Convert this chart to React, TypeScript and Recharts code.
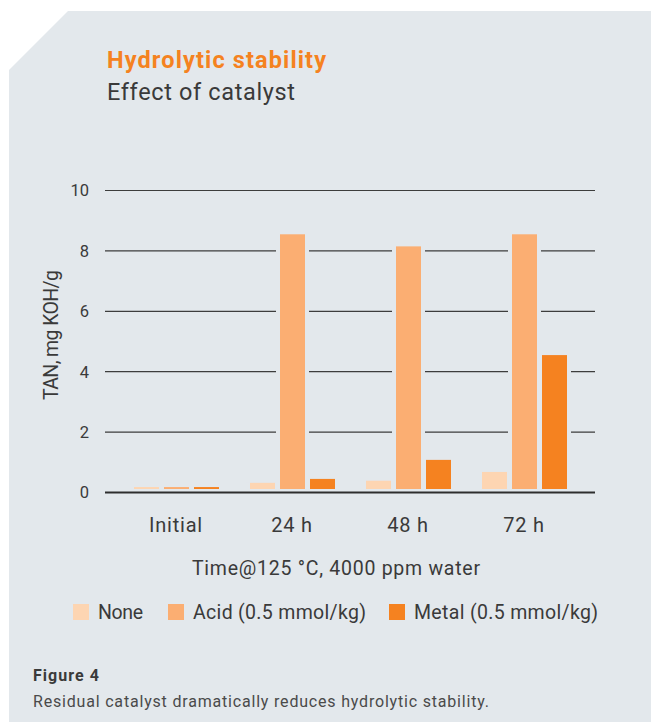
import { BarChart, Bar, XAxis, YAxis, CartesianGrid } from 'recharts';

const categories = ['Initial', '24 h', '48 h', '72 h'];
const noneValues = [0.18, 0.32, 0.39, 0.68];
const acidValues = [0.18, 8.55, 8.15, 8.55];
const metalValues = [0.18, 0.45, 1.08, 4.55];
const yTicks = [0, 2, 4, 6, 8, 10];

const series = [
  { key: 'none', name: 'None', color: '#fdd5b2' },
  { key: 'acid', name: 'Acid (0.5 mmol/kg)', color: '#fbae72' },
  { key: 'metal', name: 'Metal (0.5 mmol/kg)', color: '#f58220' },
];

const data = categories.map((c, i) => ({
  time: c,
  none: noneValues[i],
  acid: acidValues[i],
  metal: metalValues[i],
}));

const PANEL = '#e3e8ec';
const TEXT = '#3a3a3a';
const ORANGE = '#f58220';
const FONT = 'Roboto, "Open Sans", sans-serif';

// bar with a panel-coloured halo so the grid lines break around it
function HaloBar(props: any) {
  const { x, y, width, height, fill } = props;
  if (!height || height <= 0) return null;
  return (
    <g>
      <rect x={x - 4} y={y} width={width + 8} height={height} fill={PANEL} />
      <rect x={x} y={y} width={width} height={Math.max(height - 3.5, 1.5)} fill={fill} />
    </g>
  );
}

// layout of the legend entries (square left edge, text left edge, text width)
const legendLayout = [
  { sx: 73, tx: 98, w: 45 },
  { sx: 168, tx: 193, w: 173 },
  { sx: 389, tx: 414, w: 184 },
];

export default function App() {
  return (
    <div style={{ position: 'absolute', left: 0, top: 0, width: 651, height: 722, background: '#fff', overflow: 'hidden', fontFamily: FONT }}>
      <svg width={651} height={722} style={{ position: 'absolute', left: 0, top: 0 }}>
        <polygon points="68,11 651,11 651,722 9,722 9,70" fill={PANEL} />
        <text x={107} y={68.3} fontSize={23.5} fontWeight={700} fill={ORANGE} textLength={219} lengthAdjust="spacing">
          Hydrolytic stability
        </text>
        <text x={107} y={100} fontSize={23.5} fill={TEXT} textLength={188} lengthAdjust="spacing">
          Effect of catalyst
        </text>
        <text x={58.3} y={335} fontSize={19.5} fill={TEXT} textAnchor="middle" transform="rotate(-90, 58.3, 335)" textLength={130} lengthAdjust="spacing">
          TAN, mg KOH/g
        </text>
        <text x={192} y={575} fontSize={19.5} fill={TEXT} textLength={288} lengthAdjust="spacing">
          Time@125 °C, 4000 ppm water
        </text>
        {series.map((s, i) => (
          <g key={s.key}>
            <rect x={legendLayout[i].sx} y={604} width={16} height={16} fill={s.color} />
            <text x={legendLayout[i].tx} y={619} fontSize={19.5} fill={TEXT} textLength={legendLayout[i].w} lengthAdjust="spacing">
              {s.name}
            </text>
          </g>
        ))}
        <text x={33} y={680.7} fontSize={16} fontWeight={700} fill={TEXT} textLength={66} lengthAdjust="spacing">
          Figure 4
        </text>
        <text x={33} y={706.7} fontSize={16} fill="#4a4a4a" textLength={456} lengthAdjust="spacing">
          Residual catalyst dramatically reduces hydrolytic stability.
        </text>
      </svg>
      <div style={{ position: 'absolute', left: 0, top: 0 }}>
        <BarChart
          width={651}
          height={560}
          data={data}
          margin={{ top: 190.5, right: 56, left: 55, bottom: 37.5 }}
          barGap={5}
          barSize={25}
        >
          <CartesianGrid vertical={false} stroke="#3d3d3d" strokeWidth={1.2} />
          {series.map((s) => (
            <Bar key={s.key} dataKey={s.key} name={s.name} fill={s.color} shape={HaloBar} isAnimationActive={false} />
          ))}
          <XAxis
            dataKey="time"
            padding={{ left: 13, right: 13 }}
            tickLine={false}
            tickSize={0}
            tickMargin={25}
            axisLine={{ stroke: '#2e2e2e', strokeWidth: 2.2 }}
            tick={{ fill: TEXT, fontSize: 20, fontFamily: FONT, letterSpacing: 0.8 }}
          />
          <YAxis
            width={50}
            domain={[0, 10]}
            ticks={yTicks}
            tickLine={false}
            tickSize={0}
            tickMargin={16}
            axisLine={false}
            tick={{ fill: TEXT, fontSize: 16.5, fontFamily: FONT }}
          />
        </BarChart>
      </div>
    </div>
  );
}
